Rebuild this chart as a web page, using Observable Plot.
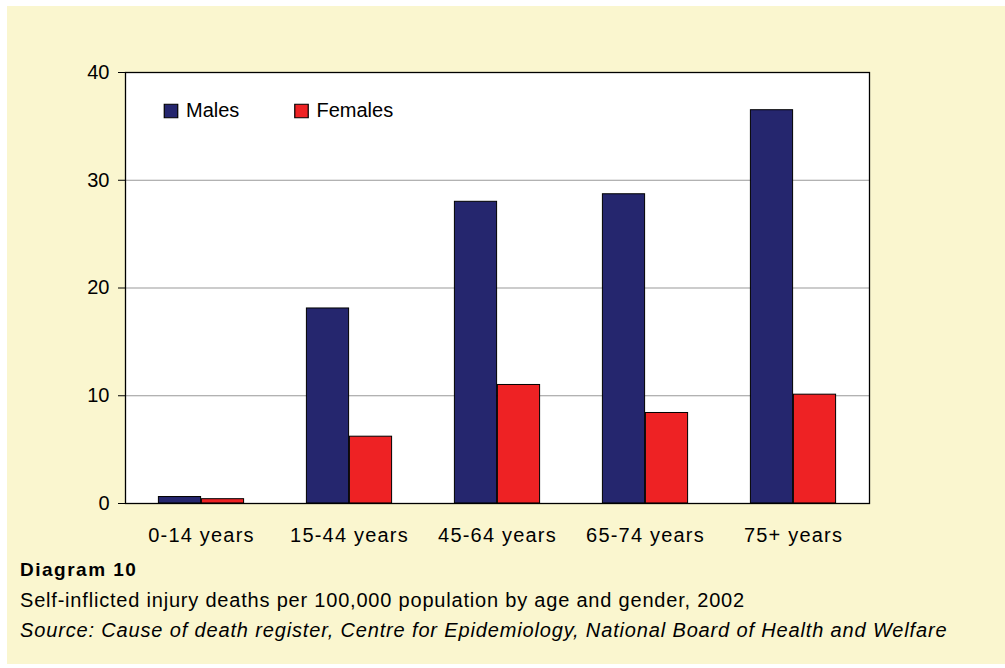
<!DOCTYPE html>
<html><head><meta charset="utf-8">
<script src="https://cdn.jsdelivr.net/npm/d3@7"></script>
<script src="https://cdn.jsdelivr.net/npm/@observablehq/plot@0.6"></script>
<style>
html,body{margin:0;padding:0;background:#ffffff;}
body{width:1005px;height:668px;overflow:hidden;position:relative;font-family:"Liberation Sans",Arial,sans-serif;color:#000;}
#panel{position:absolute;left:7px;top:6px;width:998px;height:658px;background:#FAF6CF;}
#chart{position:absolute;left:0;top:0;}
#caption{position:absolute;left:20px;top:554.5px;}
#caption div{font-size:20px;line-height:30px;white-space:nowrap;letter-spacing:0.8px;}
#caption .t{font-weight:bold;font-size:19px;letter-spacing:1.5px;}
#caption .s{font-style:italic;letter-spacing:0.85px;}
</style></head><body>
<div id="panel"></div>
<div id="chart"></div>
<div id="caption">
<div class="t">Diagram 10</div>
<div>Self-inflicted injury deaths per 100,000 population by age and gender, 2002</div>
<div class="s">Source: Cause of death register, Centre for Epidemiology, National Board of Health and Welfare</div>
</div>
<script>
const categories = ["0-14 years","15-44 years","45-64 years","65-74 years","75+ years"];
const series = ["Males","Females"];
const males = [0.6, 18.1, 28.0, 28.7, 36.5];
const females = [0.4, 6.2, 11.0, 8.4, 10.1];
const yTicks = [0, 10, 20, 30, 40];
const colors = ["#25266E", "#EE2224"];

const values = {Males: males, Females: females};
const W = 1005, H = 555, mL = 125, mR = 136, mT = 72, mB = 52;
const step = (W - mL - mR) / categories.length;
const barW = 43;

const marks = [Plot.frame({fill: "white", stroke: null}),
  Plot.gridY(yTicks.filter(t => t > 0 && t < 40), {stroke: "#999", strokeOpacity: 1})];

series.forEach((s, k) => {
  const rows = categories.map((c, i) => ({age: c, sex: s, value: values[s][i]}));
  marks.push(Plot.barY(rows, {
    x: "age", y: "value", fill: colors[k], stroke: "black", strokeWidth: 1,
    insetLeft: k === 0 ? step / 2 - barW : step / 2,
    insetRight: k === 0 ? step / 2 : step / 2 - barW
  }));
});

// legend inside plot
const legendX = [45.5, 176];
series.forEach((s, k) => {
  marks.push(Plot.dot([s], {frameAnchor: "top-left", dx: legendX[k], dy: 38.5,
    symbol: "square", r: 7.6, fill: colors[k], stroke: "black", strokeWidth: 1.2}));
  marks.push(Plot.text([s], {frameAnchor: "top-left", dx: legendX[k] + 15, dy: 38,
    text: d => d, textAnchor: "start", lineAnchor: "middle", fontSize: 20, fill: "black"}));
});

marks.push(Plot.frame({stroke: "black", strokeWidth: 1.3}));
marks.push(Plot.axisY({ticks: yTicks, tickSize: 7, tickPadding: 9, label: null, fontSize: 20}));
marks.push(Plot.axisX({tickSize: 0, tickPadding: 24, label: null, fontSize: 20}));

const chart = Plot.plot({
  width: W, height: H,
  marginLeft: mL, marginRight: mR, marginTop: mT, marginBottom: mB,
  x: {domain: categories, padding: 0},
  y: {domain: [0, 40]},
  style: {background: "transparent", fontFamily: "'Liberation Sans', Arial, sans-serif", fontSize: "20px", color: "black", overflow: "visible"},
  marks
});
d3.select(chart).selectAll("g[aria-label='x-axis tick label'] text").style("letter-spacing", "1.2px");
document.getElementById("chart").appendChild(chart);
</script>
</body></html>
